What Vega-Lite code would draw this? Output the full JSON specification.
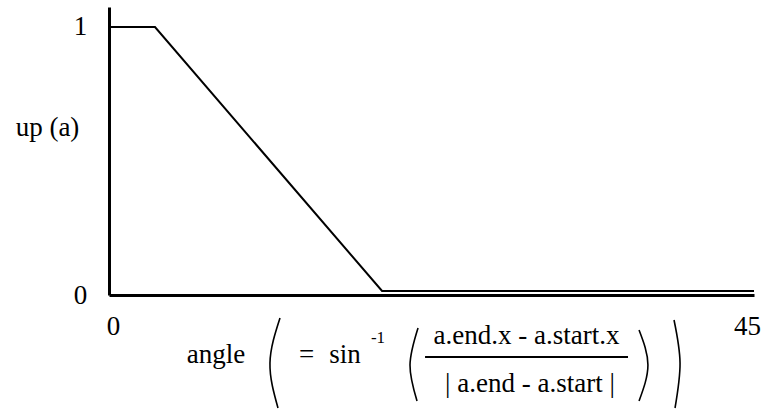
{
  "$schema": "https://vega.github.io/schema/vega-lite/v6.json",
  "width": 645,
  "height": 288,
  "autosize": {"type": "none"},
  "padding": {"left": 109, "top": 7, "right": 10, "bottom": 117},
  "background": "white",
  "config": {"view": {"stroke": null}},
  "datasets": {
    "curve": [
      {"angle": 0, "up": 1},
      {"angle": 3.21, "up": 1},
      {"angle": 19.05, "up": 0.015},
      {"angle": 45, "up": 0.015}
    ],
    "parens": [
      {"paren": "outer-left", "k": 0, "x": 11.93, "y": -0.0858},
      {"paren": "outer-left", "k": 1, "x": 11.23, "y": -0.2537},
      {"paren": "outer-left", "k": 2, "x": 11.79, "y": -0.4216},
      {"paren": "inner-left", "k": 0, "x": 21.56, "y": -0.1231},
      {"paren": "inner-left", "k": 1, "x": 21.0, "y": -0.2612},
      {"paren": "inner-left", "k": 2, "x": 21.49, "y": -0.3955},
      {"paren": "inner-right", "k": 0, "x": 36.98, "y": -0.1306},
      {"paren": "inner-right", "k": 1, "x": 37.6, "y": -0.2612},
      {"paren": "inner-right", "k": 2, "x": 36.98, "y": -0.3955},
      {"paren": "outer-right", "k": 0, "x": 39.42, "y": -0.0933},
      {"paren": "outer-right", "k": 1, "x": 39.84, "y": -0.2537},
      {"paren": "outer-right", "k": 2, "x": 39.49, "y": -0.4216}
    ],
    "texts": [
      {"label": "angle", "x": 7.47, "y": -0.2537},
      {"label": "=", "x": 13.78, "y": -0.2537},
      {"label": "sin", "x": 16.47, "y": -0.2537},
      {"label": "a.end.x - a.start.x", "x": 29.13, "y": -0.1828},
      {"label": "| a.end - a.start |", "x": 29.37, "y": -0.3619}
    ],
    "sup": [
      {"label": "-1", "x": 18.77, "y": -0.1791}
    ],
    "frac": [
      {"x": 22.05, "x2": 36.21, "y": -0.2313}
    ]
  },
  "layer": [
    {
      "data": {"name": "curve"},
      "mark": {"type": "line", "color": "black", "strokeWidth": 2},
      "encoding": {
        "x": {
          "field": "angle", "type": "quantitative",
          "scale": {"domain": [0, 45], "nice": false, "zero": false},
          "axis": {
            "values": [0, 45], "format": "d", "title": null, "grid": false, "ticks": false, "tickSize": 0,
            "domainColor": "black", "domainWidth": 3,
            "labelFont": "serif", "labelFontSize": 27, "labelColor": "black",
            "labelPadding": 18, "labelBaseline": "top", "labelAlign": "center",
            "labelOffset": {"condition": {"test": "datum.value == 0", "value": 4}, "value": -7}
          }
        },
        "y": {
          "field": "up", "type": "quantitative",
          "scale": {"domain": [0, 1.0746], "nice": false, "zero": false},
          "axis": {
            "values": [0, 1], "format": "d", "grid": false, "ticks": false, "tickSize": 0,
            "domainColor": "black", "domainWidth": 3,
            "labelFont": "serif", "labelFontSize": 27, "labelColor": "black",
            "labelPadding": 29, "labelBaseline": "middle", "labelAlign": "center",
            "title": "up (a)", "titleFont": "serif", "titleFontSize": 27,
            "titleFontWeight": "normal", "titleColor": "black", "titleAngle": 0,
            "titleAlign": "center", "titleBaseline": "middle", "titleX": -62, "titleY": 120
          }
        }
      }
    },
    {
      "data": {"name": "parens"},
      "mark": {"type": "line", "color": "black", "strokeWidth": 1.6, "interpolate": "natural"},
      "encoding": {
        "x": {"field": "x", "type": "quantitative", "scale": {"domain": [0, 45], "nice": false, "zero": false}},
        "y": {"field": "y", "type": "quantitative", "scale": {"domain": [0, 1.0746], "nice": false, "zero": false}},
        "detail": {"field": "paren", "type": "nominal"},
        "order": {"field": "k", "type": "quantitative"}
      }
    },
    {
      "data": {"name": "frac"},
      "mark": {"type": "rule", "color": "black", "strokeWidth": 2},
      "encoding": {
        "x": {"field": "x", "type": "quantitative", "scale": {"domain": [0, 45], "nice": false, "zero": false}},
        "x2": {"field": "x2"},
        "y": {"field": "y", "type": "quantitative", "scale": {"domain": [0, 1.0746], "nice": false, "zero": false}}
      }
    },
    {
      "data": {"name": "texts"},
      "mark": {"type": "text", "font": "serif", "fontSize": 27, "color": "black", "align": "center", "baseline": "alphabetic"},
      "encoding": {
        "x": {"field": "x", "type": "quantitative", "scale": {"domain": [0, 45], "nice": false, "zero": false}},
        "y": {"field": "y", "type": "quantitative", "scale": {"domain": [0, 1.0746], "nice": false, "zero": false}},
        "text": {"field": "label", "type": "nominal"}
      }
    },
    {
      "data": {"name": "sup"},
      "mark": {"type": "text", "font": "serif", "fontSize": 17, "color": "black", "align": "center", "baseline": "alphabetic"},
      "encoding": {
        "x": {"field": "x", "type": "quantitative", "scale": {"domain": [0, 45], "nice": false, "zero": false}},
        "y": {"field": "y", "type": "quantitative", "scale": {"domain": [0, 1.0746], "nice": false, "zero": false}},
        "text": {"field": "label", "type": "nominal"}
      }
    }
  ]
}
